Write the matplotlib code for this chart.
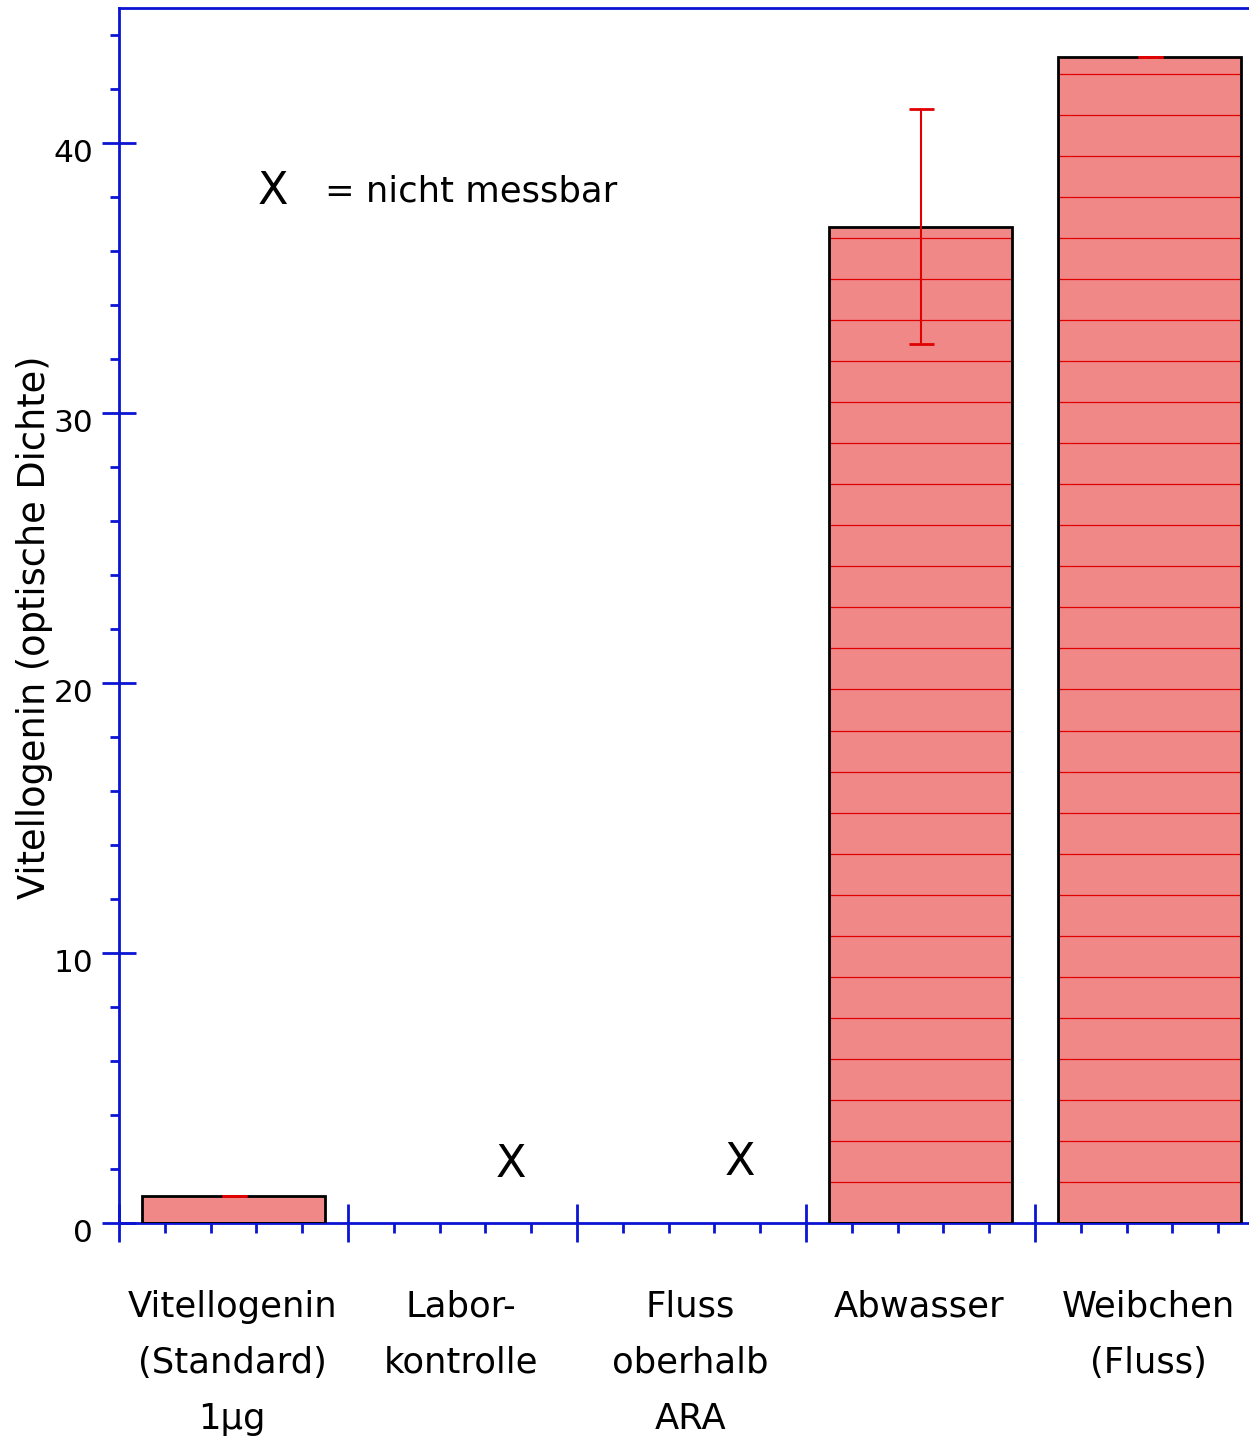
import numpy as np
import matplotlib
matplotlib.use("Agg")
import matplotlib.pyplot as plt
import matplotlib.transforms as mtransforms
from matplotlib.ticker import MultipleLocator

# data
categories = ["Vitellogenin\n(Standard)\n1µg", "Labor-\nkontrolle", "Fluss\noberhalb\nARA",
              "Abwasser", "Weibchen\n(Fluss)"]
values = [1.0, np.nan, np.nan, 36.9, 43.2]
errors = [0.0, np.nan, np.nan, 4.35, 0.0]
not_measurable_y = [np.nan, 2.15, 2.25, np.nan, np.nan]

blue = "#0a14d2"
red = "#e00000"
hatch_step = 1.52   # spacing of the red lines inside the bars

fig = plt.figure(figsize=(12.49, 14.45), dpi=100)
ax = fig.add_axes([119 / 1249, 1 - 1223 / 1445, 1130 / 1249, 1215 / 1445])

pos = np.arange(len(categories)) + 0.5
vals = np.array(values)
errs = np.array(errors)
ok = ~np.isnan(vals)
w = 0.8

ax.bar(pos[ok], vals[ok], width=w, color="#f08888", linewidth=0, zorder=2)
# red lines inside the bars
for xp, h in zip(pos[ok], vals[ok]):
    lv = np.arange(hatch_step, h, hatch_step)
    ax.hlines(lv, xp - w / 2, xp + w / 2, colors=red, linewidth=0.9, zorder=2.5)
ax.bar(pos[ok], vals[ok], width=w, fill=False, edgecolor="black",
       linewidth=2.0, zorder=3)
ax.errorbar(pos[ok], vals[ok], yerr=errs[ok], fmt="none", ecolor=red,
            elinewidth=1.5, capsize=9, capthick=2, zorder=4)

# "X" marks for not measurable
nm = np.array(not_measurable_y)
for xp, yp in zip(pos[~np.isnan(nm)], nm[~np.isnan(nm)]):
    ax.text(xp + 0.21, yp, "X", fontsize=32, ha="center", va="center", zorder=5)

ax.text(0.67, 38.2, "X", fontsize=32, ha="center", va="center")
ax.text(0.90, 38.2, "= nicht messbar", fontsize=25.5, ha="left", va="center")

ax.set_xlim(0, 1130 / 229)
ax.set_ylim(0, 45)

for s in ["left", "bottom", "top"]:
    ax.spines[s].set_color(blue)
    ax.spines[s].set_linewidth(2)
ax.spines["right"].set_visible(False)

ax.xaxis.set_major_locator(MultipleLocator(1))
ax.xaxis.set_minor_locator(MultipleLocator(0.2))
ax.yaxis.set_major_locator(MultipleLocator(10))
ax.yaxis.set_minor_locator(MultipleLocator(2))
ax.tick_params(axis="x", which="major", direction="inout", length=27, width=2,
               color=blue, labelbottom=False)
ax.tick_params(axis="x", which="minor", direction="out", length=7, width=2, color=blue)
ax.tick_params(axis="y", which="major", direction="inout", length=25, width=2,
               color=blue, labelsize=22.5, pad=6)
ax.tick_params(axis="y", which="minor", direction="out", length=6.5, width=2, color=blue)

# shift y tick labels slightly down like the original
shift = mtransforms.ScaledTranslation(0, -7 / 100, fig.dpi_scale_trans)
for lab in ax.get_yticklabels():
    lab.set_transform(lab.get_transform() + shift)

# category labels under each group
for xp, lab in zip(pos, categories):
    ax.annotate(lab, xy=(xp, 0), xycoords=("data", "axes fraction"),
                xytext=(-1, -48), textcoords="offset points",
                ha="center", va="top", fontsize=25.5, linespacing=1.82)

ax.set_ylabel("Vitellogenin (optische Dichte)", fontsize=26.5)
ax.yaxis.set_label_coords(-0.058, 0.49)

fig.savefig("out.png", dpi=100)
